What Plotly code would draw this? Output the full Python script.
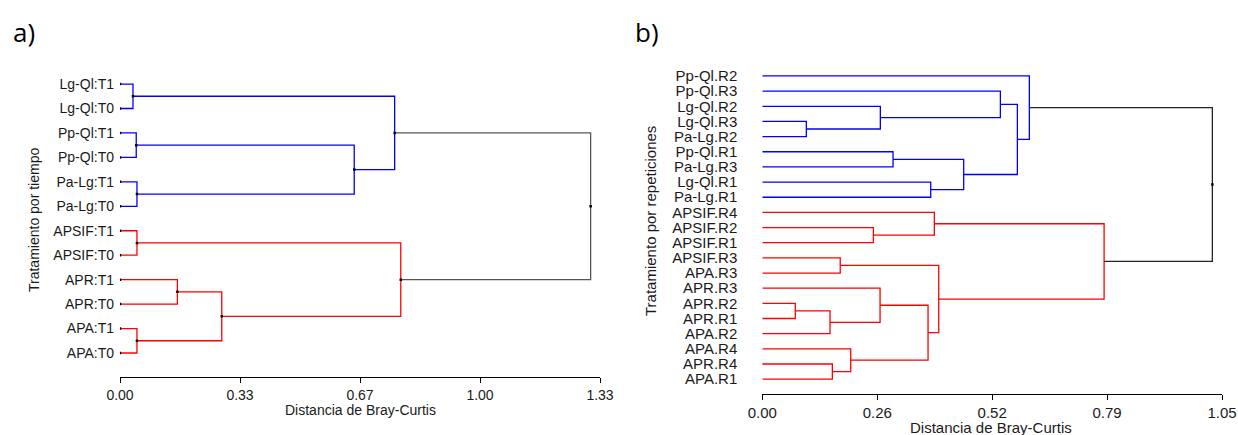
import plotly.graph_objects as go

# ---------------- Data ----------------
# Panel a) leaves (top to bottom)
labels_a = ["Lg-Ql:T1", "Lg-Ql:T0", "Pp-Ql:T1", "Pp-Ql:T0", "Pa-Lg:T1", "Pa-Lg:T0",
            "APSIF:T1", "APSIF:T0", "APR:T1", "APR:T0", "APA:T1", "APA:T0"]
# merges: (left id, right id, height); new node ids continue after the leaves
merge_left_a = [0, 2, 4, 13, 12, 6, 8, 10, 18, 17, 16]
merge_right_a = [1, 3, 5, 14, 15, 7, 9, 11, 19, 20, 21]
merge_height_a = [0.036, 0.045, 0.047, 0.649, 0.761, 0.047, 0.159, 0.047, 0.282, 0.778, 1.304]
merge_group_a = ["b", "b", "b", "b", "b", "r", "r", "r", "r", "r", "k"]

# Panel b) leaves (top to bottom)
labels_b = ["Pp-Ql.R2", "Pp-Ql.R3", "Lg-Ql.R2", "Lg-Ql.R3", "Pa-Lg.R2", "Pp-Ql.R1",
            "Pa-Lg.R3", "Lg-Ql.R1", "Pa-Lg.R1", "APSIF.R4", "APSIF.R2", "APSIF.R1",
            "APSIF.R3", "APA.R3", "APR.R3", "APR.R2", "APR.R1", "APA.R2", "APA.R4",
            "APR.R4", "APA.R1"]
merge_left_b = [3, 2, 1, 5, 7, 24, 23, 0, 10, 9, 12, 15, 17, 14, 19, 18, 34, 31, 30, 28]
merge_right_b = [4, 21, 22, 6, 8, 25, 26, 27, 11, 29, 13, 16, 32, 33, 20, 35, 36, 37, 38, 39]
merge_height_b = [0.1006, 0.2696, 0.5438, 0.2986, 0.3847, 0.460, 0.5826, 0.610,
                  0.2537, 0.393, 0.178, 0.0754, 0.1547, 0.269, 0.160, 0.202,
                  0.3786, 0.403, 0.7807, 1.028]
merge_group_b = ["b"] * 8 + ["r"] * 11 + ["k"]

tickvals_a = [0, 0.3325, 0.665, 0.9975, 1.33]
ticktext_a = ["0.00", "0.33", "0.67", "1.00", "1.33"]
tickvals_b = [0, 0.2625, 0.525, 0.7875, 1.05]
ticktext_b = ["0.00", "0.26", "0.52", "0.79", "1.05"]

W, H = 1238, 435
BLUE, RED = "#0000ff", "#ff0000"
FONT = "Liberation Sans, Arial, sans-serif"


def dendro_segments(n, left, right, height, group):
    pos = {i: float(i) for i in range(n)}
    hgt = {i: 0.0 for i in range(n)}
    segs = {"b": ([], []), "r": ([], []), "k": ([], [])}
    nodes = ([], [])
    for k, (l, r, h, g) in enumerate(zip(left, right, height, group)):
        nid = n + k
        xs, ys = segs[g]
        xs += [hgt[l], h, h, hgt[r], None]
        ys += [pos[l], pos[l], pos[r], pos[r], None]
        pos[nid] = (pos[l] + pos[r]) / 2
        hgt[nid] = h
        nodes[0].append(h)
        nodes[1].append(pos[nid])
    return segs, nodes


fig = go.Figure()

cols_a = {"b": BLUE, "r": RED, "k": "#555555"}
cols_b = {"b": BLUE, "r": RED, "k": "#222222"}

segs_a, nodes_a = dendro_segments(len(labels_a), merge_left_a, merge_right_a,
                                  merge_height_a, merge_group_a)
for g, (xs, ys) in segs_a.items():
    fig.add_trace(go.Scatter(x=xs, y=ys, mode="lines", xaxis="x", yaxis="y",
                             line=dict(color=cols_a[g], width=1.3),
                             hoverinfo="skip", showlegend=False))
fig.add_trace(go.Scatter(x=nodes_a[0] + [0] * len(labels_a),
                         y=nodes_a[1] + list(range(len(labels_a))),
                         mode="markers", xaxis="x", yaxis="y",
                         marker=dict(color="black", size=2.5, symbol="square"),
                         hoverinfo="skip", showlegend=False))

segs_b, nodes_b = dendro_segments(len(labels_b), merge_left_b, merge_right_b,
                                  merge_height_b, merge_group_b)
for g, (xs, ys) in segs_b.items():
    fig.add_trace(go.Scatter(x=xs, y=ys, mode="lines", xaxis="x2", yaxis="y2",
                             line=dict(color=cols_b[g], width=1.3),
                             hoverinfo="skip", showlegend=False))
fig.add_trace(go.Scatter(x=[nodes_b[0][-1]], y=[nodes_b[1][-1]],
                         mode="markers", xaxis="x2", yaxis="y2",
                         marker=dict(color="black", size=2.5, symbol="square"),
                         hoverinfo="skip", showlegend=False))

na, nb = len(labels_a), len(labels_b)

xcommon = dict(showline=True, linecolor="black", linewidth=1, ticks="outside",
               ticklen=5, tickcolor="black", showgrid=False, zeroline=False,
               automargin=False)
ycommon = dict(showline=False, ticks="", showgrid=False, zeroline=False,
               automargin=False)

fig.update_layout(
    width=W, height=H,
    margin=dict(l=0, r=0, t=0, b=0, pad=0, autoexpand=False),
    paper_bgcolor="white", plot_bgcolor="white",
    font=dict(family=FONT, color="#1a1a1a"),
    xaxis=dict(domain=[120 / W, 600 / W], range=[0, 1.33], anchor="y",
               tickvals=tickvals_a, ticktext=ticktext_a,
               tickfont=dict(size=14, family=FONT), **xcommon),
    yaxis=dict(domain=[(H - 377.45) / H, (H - 59.6) / H], range=[na, -1], anchor="x",
               tickvals=list(range(na)), ticktext=labels_a, ticklabelstandoff=5,
               tickfont=dict(size=14, family=FONT), **ycommon),
    xaxis2=dict(domain=[762.3 / W, 1222 / W], range=[0, 1.05], anchor="y2",
                tickvals=tickvals_b, ticktext=ticktext_b,
                tickfont=dict(size=15, family=FONT), **xcommon),
    yaxis2=dict(domain=[(H - 394.3) / H, (H - 60.8) / H], range=[nb, -1], anchor="x2",
                tickvals=list(range(nb)), ticktext=labels_b, ticklabelstandoff=24,
                tickfont=dict(size=15, family=FONT), **ycommon),
    annotations=[
        dict(text="a)", x=11 / W, y=(H - 32) / H, xref="paper", yref="paper",
             xanchor="left", yanchor="middle", showarrow=False,
             font=dict(family="Open Sans, sans-serif", size=26, color="black")),
        dict(text="b)", x=633 / W, y=(H - 32) / H, xref="paper", yref="paper",
             xanchor="left", yanchor="middle", showarrow=False,
             font=dict(family="Open Sans, sans-serif", size=26, color="black")),
        dict(text="Tratamiento por tiempo", textangle=-90, x=34 / W, y=(H - 220) / H,
             xref="paper", yref="paper", xanchor="center", yanchor="middle",
             showarrow=False, font=dict(size=14, family=FONT)),
        dict(text="Tratamiento por repeticiones", textangle=-90, x=650 / W,
             y=(H - 221) / H, xref="paper", yref="paper", xanchor="center",
             yanchor="middle", showarrow=False, font=dict(size=15, family=FONT)),
        dict(text="Distancia de Bray-Curtis", x=360 / W, y=(H - 409.5) / H,
             xref="paper", yref="paper", xanchor="center", yanchor="middle",
             showarrow=False, font=dict(size=14, family=FONT)),
        dict(text="Distancia de Bray-Curtis", x=991 / W, y=(H - 427) / H,
             xref="paper", yref="paper", xanchor="center", yanchor="middle",
             showarrow=False, font=dict(size=15, family=FONT)),
    ],
)

fig.write_html("out.html")
